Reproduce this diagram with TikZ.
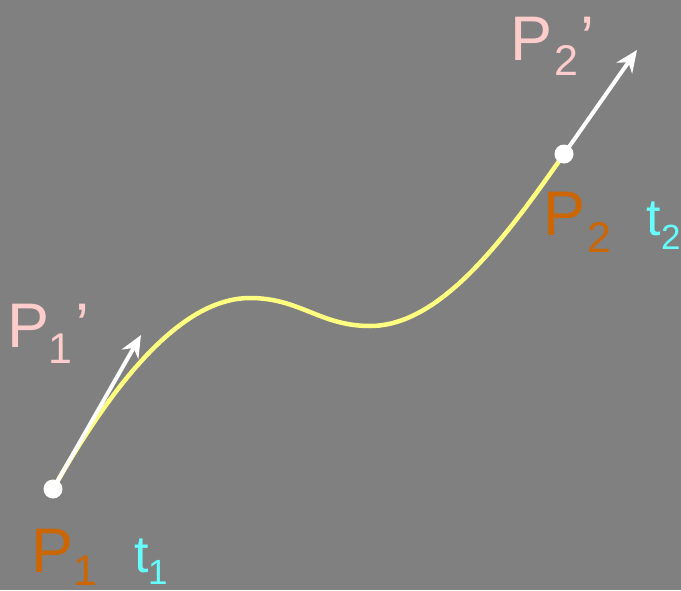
\documentclass[tikz,border=0pt]{standalone}
\usepackage{fontspec}
\setmainfont{Liberation Sans}
\usetikzlibrary{arrows.meta}
\definecolor{bg}{RGB}{128,128,128}
\definecolor{curvey}{RGB}{255,255,128}
\definecolor{porange}{RGB}{204,102,0}
\definecolor{ppink}{RGB}{255,204,204}
\definecolor{tcyan}{RGB}{102,255,255}
\tikzset{
  big/.style={anchor=base west,inner sep=0pt,font=\fontsize{63}{63}\selectfont},
  sub/.style={anchor=base west,inner sep=0pt,font=\fontsize{43}{43}\selectfont},
  tbig/.style={anchor=base west,inner sep=0pt,font=\fontsize{52}{52}\selectfont},
  tsub/.style={anchor=base west,inner sep=0pt,font=\fontsize{35}{35}\selectfont},
  dot/.style={circle,fill=white,minimum size=19pt,inner sep=0pt},
  tanarrow/.style={draw=white,line width=4pt},
  tanhead/.tip={Stealth[length=22pt,width=19pt,inset=7pt]},
}
\begin{document}
\begin{tikzpicture}[x=1pt,y=-1pt]
\fill[bg] (0,0) rectangle (681,590);
\useasboundingbox (0,0) rectangle (681,590);
\coordinate (c1) at (53,489);
\coordinate (c2) at (564,154);
\coordinate (a1) at (141,335);
\coordinate (a2) at (637,50);
\draw[curvey,line width=4.5pt] (c1) .. controls (112,385) and (180,298) .. (250,298)
  .. controls (300,298) and (320,326) .. (370,326)
  .. controls (440,326) and (504,240) .. (c2);
\draw[tanarrow,-tanhead] (c1) -- (a1);
\draw[tanarrow,-tanhead] (c2) -- (a2);
\node[dot] (p1) at (c1) {};
\node[dot] (p2) at (c2) {};
% P1
\node[big,text=porange] (lp1) at (31,572) {P};
\node[sub,text=porange] (lp1s) at (73,585) {1};
\node[tbig,text=tcyan] (lt1) at (134,572) {t};
\node[tsub,text=tcyan] (lt1s) at (148,584) {1};
% P1'
\node[big,text=ppink] (lq1) at (7,347) {P};
\node[sub,text=ppink] (lq1s) at (48,363) {1};
\node[big,text=ppink] (lq1p) at (75,347) {’};
% P2
\node[big,text=porange] (lp2) at (543,235) {P};
\node[sub,text=porange] (lp2s) at (587,252) {2};
\node[tbig,text=tcyan] (lt2) at (646,235) {t};
\node[tsub,text=tcyan] (lt2s) at (661,249) {2};
% P2'
\node[big,text=ppink] (lq2) at (510,60) {P};
\node[sub,text=ppink] (lq2s) at (554,75) {2};
\node[big,text=ppink] (lq2p) at (580,60) {’};
\end{tikzpicture}
\end{document}
